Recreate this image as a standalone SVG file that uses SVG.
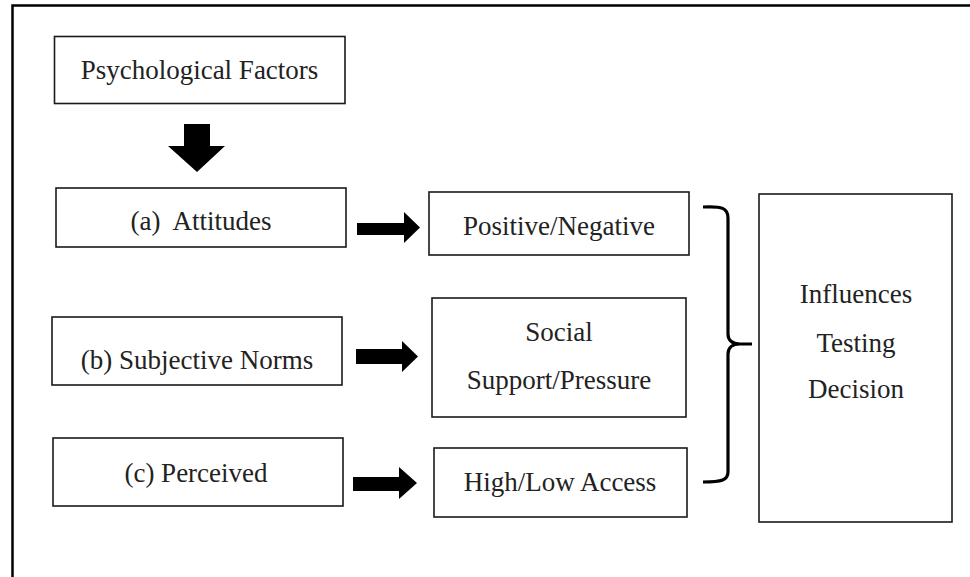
<svg xmlns="http://www.w3.org/2000/svg" width="970" height="577" viewBox="0 0 970 577">
<style>
.box{fill:#fff;stroke:#1a1a1a;stroke-width:1.6}
.t{font-family:"Liberation Serif","Times New Roman",serif;font-size:27px;fill:#222;text-anchor:middle;white-space:pre}
.arr{fill:#000}
.frame{stroke:#000;stroke-width:2.5;fill:none}
.brace{fill:none;stroke:#000;stroke-width:3.2;stroke-linecap:butt}
</style>
<rect width="970" height="577" fill="#fff"/>
<g id="frame">
<path class="frame" d="M12.5,577 V5.5 H970"/>
</g>
<g id="psych"><rect class="box" x="54.5" y="36.5" width="290.5" height="67"/><text class="t" x="199.5" y="79">Psychological Factors</text></g>
<g id="attitudes"><rect class="box" x="56" y="188" width="290" height="59"/><text class="t" x="201" y="230" xml:space="preserve">(a)  Attitudes</text></g>
<g id="positive"><rect class="box" x="429" y="192" width="260" height="63"/><text class="t" x="559" y="235">Positive/Negative</text></g>
<g id="subjective"><rect class="box" x="52" y="317" width="290" height="68"/><text class="t" x="197" y="369">(b) Subjective Norms</text></g>
<g id="social"><rect class="box" x="432" y="298" width="254" height="119"/><text class="t" x="559" y="341">Social</text><text class="t" x="559" y="389">Support/Pressure</text></g>
<g id="perceived"><rect class="box" x="53" y="438" width="290" height="68"/><text class="t" x="196" y="482">(c) Perceived</text></g>
<g id="highlow"><rect class="box" x="434" y="448" width="253" height="69"/><text class="t" x="560" y="491">High/Low Access</text></g>
<g id="influences"><rect class="box" x="759" y="194" width="193" height="328"/><text class="t" x="856" y="303">Influences</text><text class="t" x="856" y="352">Testing</text><text class="t" x="856" y="398">Decision</text></g>
<g id="connectors">
<polygon class="arr" points="184,124 210,124 210,146 225,146 197,172 168,146 184,146"/>
<polygon class="arr" points="357,223 404,223 404,212 420,227.5 404,243 404,235 357,235"/>
<polygon class="arr" points="356,349 402,349 402,341 418,356.5 402,372 402,364 356,364"/>
<polygon class="arr" points="353,477 399,477 399,467 417,483 399,499 399,491 353,491"/>
<path class="brace" d="M703,207 C722,206 728,208 728,218 L728,334 C728,340 732,344 740,344 L752,344 M740,344 C732,344 728,348 728,354 L728,472 C728,480 722,482 703,482"/>
</g>
</svg>
